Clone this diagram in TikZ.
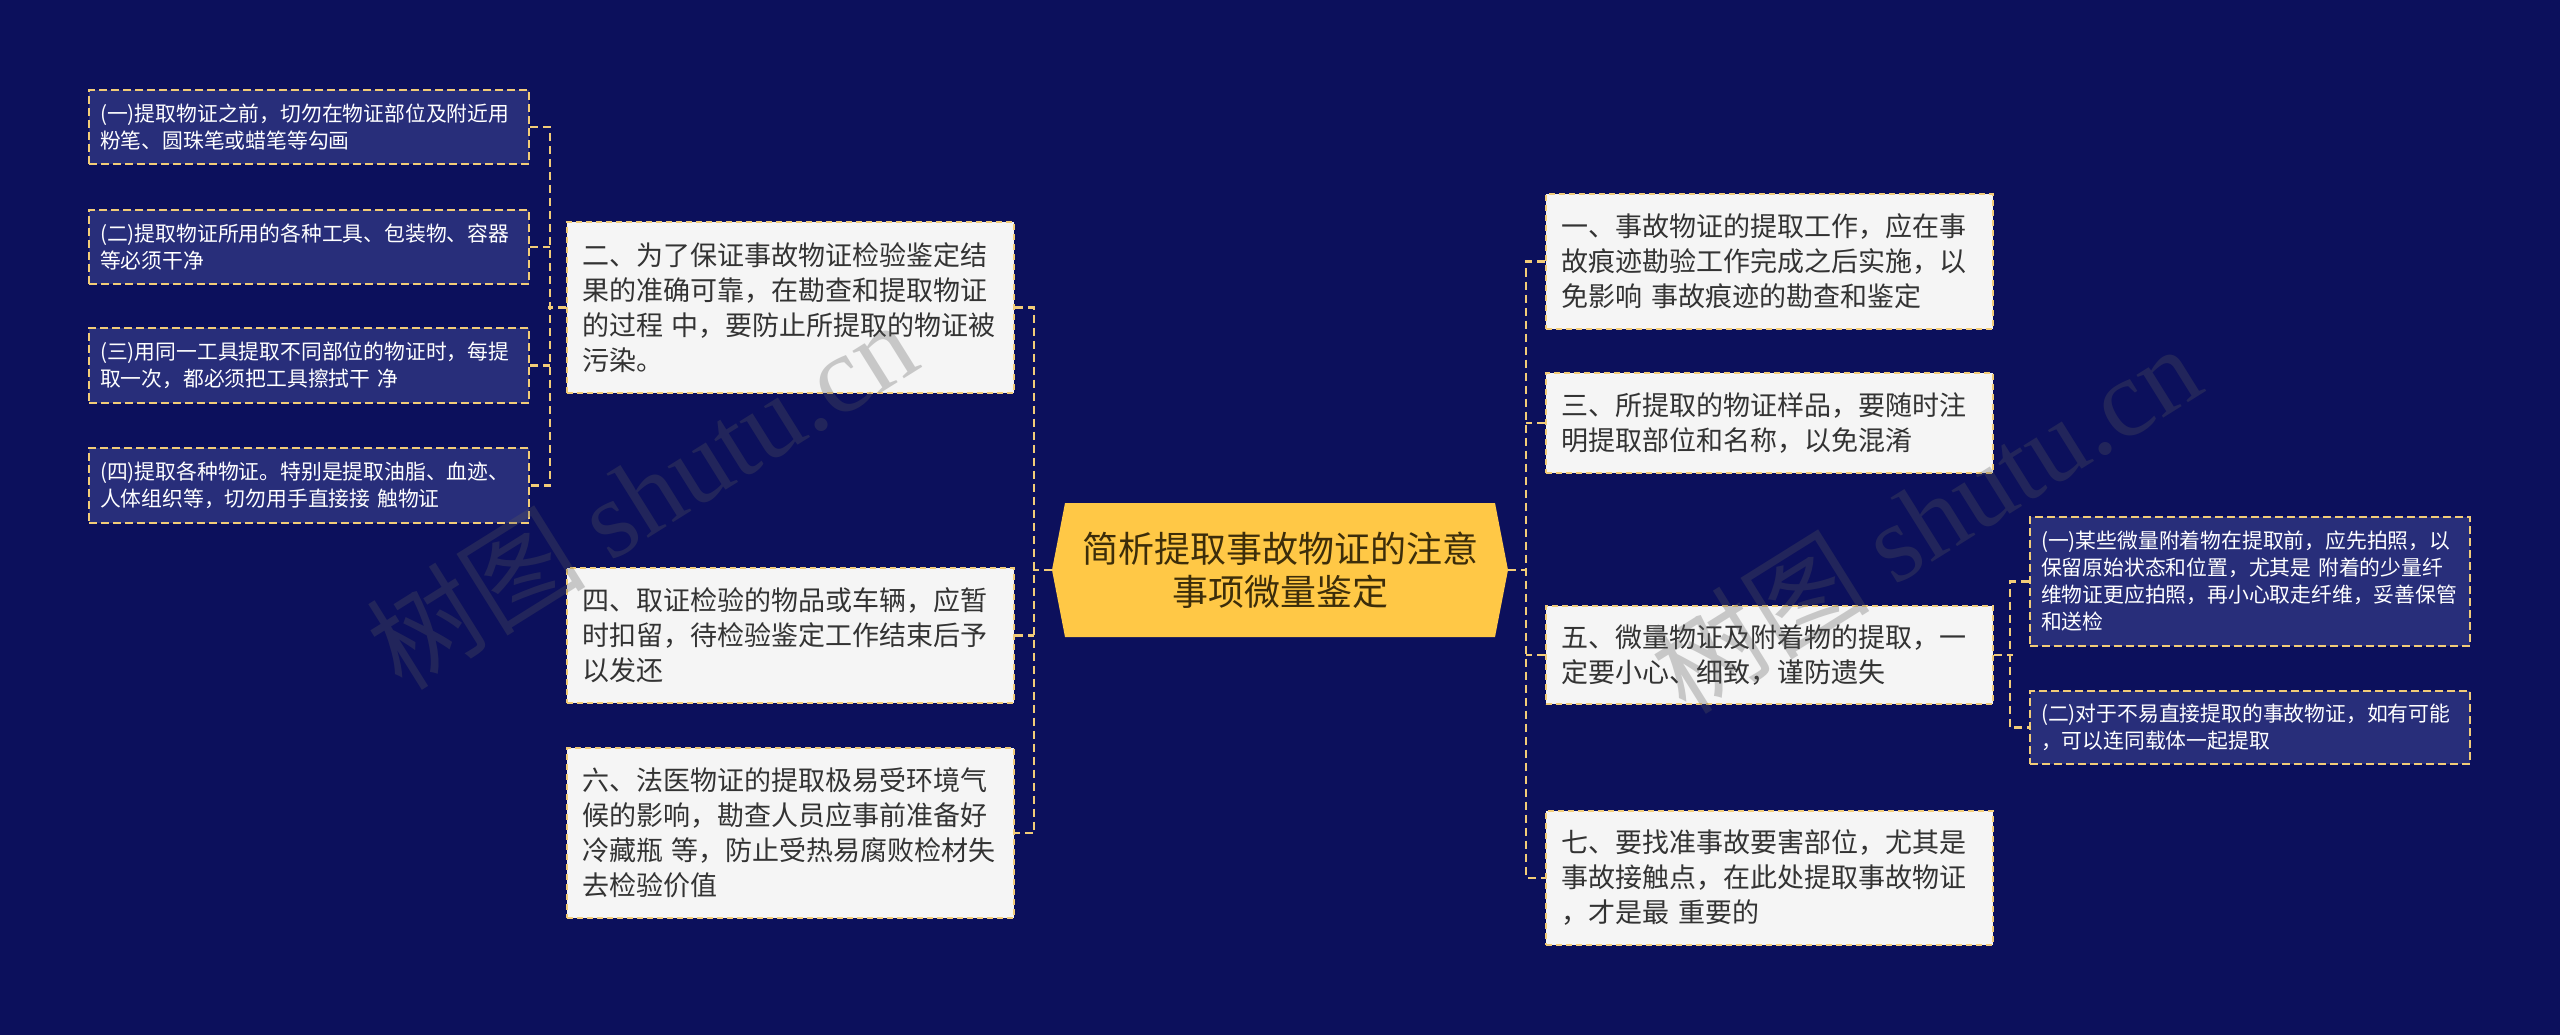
\documentclass[tikz,border=0pt]{standalone}
\usepackage{fontspec}
\setmainfont{Noto Sans CJK SC}
\newfontfamily\wmfont{Liberation Serif}
\definecolor{pagebg}{RGB}{12,16,92}
\definecolor{boxlight}{RGB}{245,245,245}
\definecolor{boxdark}{RGB}{40,46,122}
\definecolor{rootfill}{RGB}{255,200,70}
\definecolor{linkcol}{RGB}{242,204,120}
\definecolor{textdark}{RGB}{51,51,51}
\definecolor{roottext}{RGB}{60,45,10}
\begin{document}
\begin{tikzpicture}[x=1pt,y=-1pt,
  levelone/.style={draw=linkcol,line width=2pt,dash pattern=on 6pt off 4pt,fill=boxlight,text=textdark,
    minimum width=447pt,text width=417pt,inner xsep=15pt,inner ysep=0pt,align=left,
    font=\fontsize{27}{35}\selectfont},
  leveltwo/.style={draw=linkcol,line width=2pt,dash pattern=on 8pt off 4pt,fill=boxdark,text=white,
    minimum width=440pt,text width=418pt,inner xsep=11pt,inner ysep=0pt,align=left,
    font=\fontsize{20.8}{27}\selectfont},
  rootnode/.style={minimum width=456pt,minimum height=134pt,inner sep=0pt,align=center,text=roottext,
    font=\fontsize{36}{43}\selectfont},
  link/.style={draw=linkcol,line width=2.5pt,dash pattern=on 8pt off 5pt},
  watermark/.style={rotate=32,text=black!65,opacity=0.29,font=\fontsize{110}{110}\selectfont}]
\useasboundingbox (0,0) rectangle (2560,1035);
\fill[pagebg] (0,0) rectangle (2560,1035);
\fill[rootfill] (1052,570) -- (1065,503) -- (1495,503) -- (1508,570) -- (1495,637) -- (1065,637) -- cycle;
\node[rootnode] (root) at (1280,570) {简析提取事故物证的注意\\事项微量鉴定};
\node[levelone,minimum height=171pt] (n2) at (790.5,307.5) {二、为了保证事故物证检验鉴定结\\果的准确可靠，在勘查和提取物证\\的过程 中，要防止所提取的物证被\\污染。};
\node[levelone,minimum height=135pt] (n4) at (790.5,635.5) {四、取证检验的物品或车辆，应暂\\时扣留，待检验鉴定工作结束后予\\以发还};
\node[levelone,minimum height=170pt] (n6) at (790.5,833) {六、法医物证的提取极易受环境气\\候的影响，勘查人员应事前准备好\\冷藏瓶 等，防止受热易腐败检材失\\去检验价值};
\node[levelone,minimum height=135pt] (n1) at (1769.5,261.5) {一、事故物证的提取工作，应在事\\故痕迹勘验工作完成之后实施，以\\免影响 事故痕迹的勘查和鉴定};
\node[levelone,minimum height=100pt] (n3) at (1769.5,423) {三、所提取的物证样品，要随时注\\明提取部位和名称，以免混淆};
\node[levelone,minimum height=98pt] (n5) at (1769.5,655) {五、微量物证及附着物的提取，一\\定要小心、细致，谨防遗失};
\node[levelone,minimum height=134pt] (n7) at (1769.5,878) {七、要找准事故要害部位，尤其是\\事故接触点，在此处提取事故物证\\，才是最 重要的};
\node[leveltwo,minimum height=74pt] (a1) at (309,127) {(一)提取物证之前，切勿在物证部位及附近用\\粉笔、圆珠笔或蜡笔等勾画};
\node[leveltwo,minimum height=74pt] (a2) at (309,247) {(二)提取物证所用的各种工具、包装物、容器\\等必须干净};
\node[leveltwo,minimum height=75pt] (a3) at (309,365.5) {(三)用同一工具提取不同部位的物证时，每提\\取一次，都必须把工具擦拭干 净};
\node[leveltwo,minimum height=75pt] (a4) at (309,485.5) {(四)提取各种物证。特别是提取油脂、血迹、\\人体组织等，切勿用手直接接 触物证};
\node[leveltwo,minimum height=129pt] (b1) at (2250,581.5) {(一)某些微量附着物在提取前，应先拍照，以\\保留原始状态和位置，尤其是 附着的少量纤\\维物证更应拍照，再小心取走纤维，妥善保管\\和送检};
\node[leveltwo,minimum height=73pt] (b2) at (2250,727.5) {(二)对于不易直接提取的事故物证，如有可能\\，可以连同载体一起提取};
\draw[link] (root.west) -- ++(-19,0);
\draw[link] (n2.east) -- ++(19,0) |- (n6.east);
\draw[link] (n4.east) -- ++(19,0);
\draw[link] (n2.west) -- ++(-18,0);
\draw[link] (a1.east) -- ++(20,0) |- (a4.east);
\draw[link] (a2.east) -- ++(20,0);
\draw[link] (a3.east) -- ++(20,0);
\draw[link] (root.east) -- ++(19,0);
\draw[link] (n1.west) -- ++(-19,0) |- (n7.west);
\draw[link] (n3.west) -- ++(-19,0);
\draw[link] (n5.west) -- ++(-19,0);
\draw[link] (n5.east) -- ++(19,0);
\draw[link] (b1.west) -- ++(-19,0) |- (b2.west);
\node[watermark] (wm1) at (641,494) {树图 {\wmfont shutu.cn}};
\node[watermark] (wm2) at (1925,518) {树图 {\wmfont shutu.cn}};
\end{tikzpicture}
\end{document}
